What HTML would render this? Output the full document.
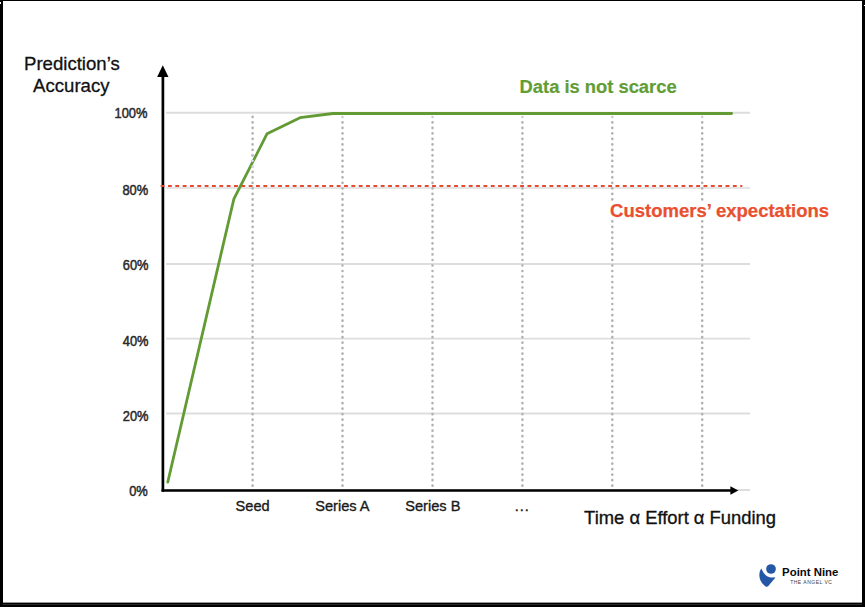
<!DOCTYPE html>
<html>
<head>
<meta charset="utf-8">
<style>
html,body{margin:0;padding:0;background:#000;}
body{width:865px;height:607px;overflow:hidden;position:relative;}
svg{position:absolute;left:0;top:0;display:block;}
text{font-family:"Liberation Sans", sans-serif;}
</style>
</head>
<body>
<svg width="865" height="607" viewBox="0 0 865 607">
  <rect x="0" y="0" width="865" height="607" fill="#000"/>
  <rect x="3" y="1" width="859" height="601.6" fill="#fff"/>
  <rect x="3" y="604" width="859" height="1" fill="#2a2a2a"/>
  <rect x="0" y="2" width="1" height="2" fill="#fff"/>
  <rect x="864" y="5" width="1" height="1" fill="#fff"/>

  <!-- horizontal gridlines -->
  <g stroke="#dddddd" stroke-width="1.9" fill="none">
    <line x1="166" y1="112.8" x2="750" y2="112.8"/>
    <line x1="166" y1="188" x2="750" y2="188" stroke-width="1.5"/>
    <line x1="166" y1="264" x2="750" y2="264"/>
    <line x1="166" y1="338.6" x2="750" y2="338.6"/>
    <line x1="166" y1="413.5" x2="750" y2="413.5"/>
    <line x1="166" y1="490" x2="750" y2="490"/>
  </g>

  <!-- vertical dotted gridlines -->
  <g stroke="#b0b0b0" stroke-width="2.5" stroke-dasharray="0.2 5.305" stroke-linecap="round" fill="none">
    <line x1="252.6" y1="116.75" x2="252.6" y2="486.2"/>
    <line x1="342.5" y1="122.25" x2="342.5" y2="486.2"/>
    <line x1="432.5" y1="122.25" x2="432.5" y2="486.2"/>
    <line x1="522.4" y1="122.25" x2="522.4" y2="486.2"/>
    <line x1="612.3" y1="122.25" x2="612.3" y2="486.2"/>
    <line x1="702.2" y1="122.25" x2="702.2" y2="486.2"/>
  </g>
  <g fill="#cbc4d6">
    <circle cx="342.5" cy="117.05" r="1.2"/>
    <circle cx="432.5" cy="117.05" r="1.2"/>
    <circle cx="522.4" cy="117.05" r="1.2"/>
    <circle cx="612.3" cy="117.05" r="1.2"/>
    <circle cx="702.2" cy="117.05" r="1.2"/>
  </g>

  <!-- axes -->
  <line x1="162.9" y1="76" x2="162.9" y2="491.8" stroke="#000" stroke-width="2.7"/>
  <line x1="161.55" y1="490.5" x2="732" y2="490.5" stroke="#000" stroke-width="2.35"/>
  <polygon points="162.8,65.3 157.1,76.9 168.5,76.9" fill="#000"/>
  <polygon points="738.3,490.5 730.4,486.3 730.4,494.7" fill="#000"/>

  <!-- red dashed expectations line -->
  <line x1="160.66" y1="186" x2="742.3" y2="186" stroke="#e8492f" stroke-width="2.1" stroke-dasharray="3.85 3.486"/>

  <!-- green curve -->
  <polyline points="167.74,482.2 233.8,199.2 267.1,133.7 300,117.7 333,113.5 731.6,113.5" fill="none" stroke="#629a34" stroke-width="2.8" stroke-linejoin="round" stroke-linecap="round"/>

  <g>
    <circle cx="252.5" cy="155.2" r="1.2" fill="#c4bccf"/>
    <circle cx="252.5" cy="160.7" r="1.3" fill="#e2d4f6"/>
    <circle cx="252.7" cy="166.3" r="1.2" fill="#e0d4f2"/>
  </g>

  <!-- y labels -->
  <g font-size="14.3" fill="#2a2a2a" stroke="#2a2a2a" stroke-width="0.5" text-anchor="end">
    <text transform="translate(147.45,118.2) scale(0.9,1)">100%</text>
    <text transform="translate(148.2,194.5) scale(0.9,1)">80%</text>
    <text transform="translate(148.5,269.55) scale(0.9,1)">60%</text>
    <text transform="translate(148.5,345.7) scale(0.9,1)">40%</text>
    <text transform="translate(148.5,421.1) scale(0.9,1)">20%</text>
    <text transform="translate(147.8,495.9) scale(0.9,1)">0%</text>
  </g>

  <!-- x labels -->
  <g font-size="14.6" fill="#1a1a1a" stroke="#1a1a1a" stroke-width="0.35" text-anchor="middle">
    <text x="252.6" y="510.9">Seed</text>
    <text x="342.4" y="510.9">Series A</text>
    <text x="432.8" y="510.9">Series B</text>
    <text x="522.3" y="510.9" letter-spacing="1">...</text>
  </g>

  <!-- titles -->
  <g font-size="18.6" fill="#111" stroke="#111" stroke-width="0.3" text-anchor="middle">
    <text x="71.9" y="70.2">Prediction’s</text>
    <text x="71.3" y="91.7">Accuracy</text>
  </g>
  <text x="584.1" y="524.4" font-size="18.4" fill="#111" stroke="#111" stroke-width="0.32">Time α Effort α Funding</text>

  <text x="519.6" y="92.8" font-size="18.35" font-weight="bold" fill="#629d33" stroke="#629d33" stroke-width="0.2">Data is not scarce</text>
  <rect x="609" y="203" width="222" height="16" fill="#fff"/>
  <text x="610.1" y="217.4" font-size="18.5" font-weight="bold" fill="#e9502f" stroke="#e9502f" stroke-width="0.25">Customers’ expectations</text>

  <!-- logo -->
  <circle cx="771" cy="569" r="4.85" fill="#2457a6"/>
  <path d="M761.4,568.6 C758.6,572 757.6,581 765.6,586.4 Q767,587.4 768.3,586.1 L775.3,577.8 Q775.2,577 773.5,577.4 C772,577.7 771,577.6 769.8,577.3 Q764.5,576 761.4,568.6 Z" fill="#2457a6"/>
  <text x="782.1" y="575.9" font-size="11.4" font-weight="bold" fill="#0a0a0a">Point Nine</text>
  <text x="790.2" y="584.4" font-size="5" fill="#3c3c3c" letter-spacing="0.5">THE ANGEL VC</text>
</svg>
</body>
</html>
